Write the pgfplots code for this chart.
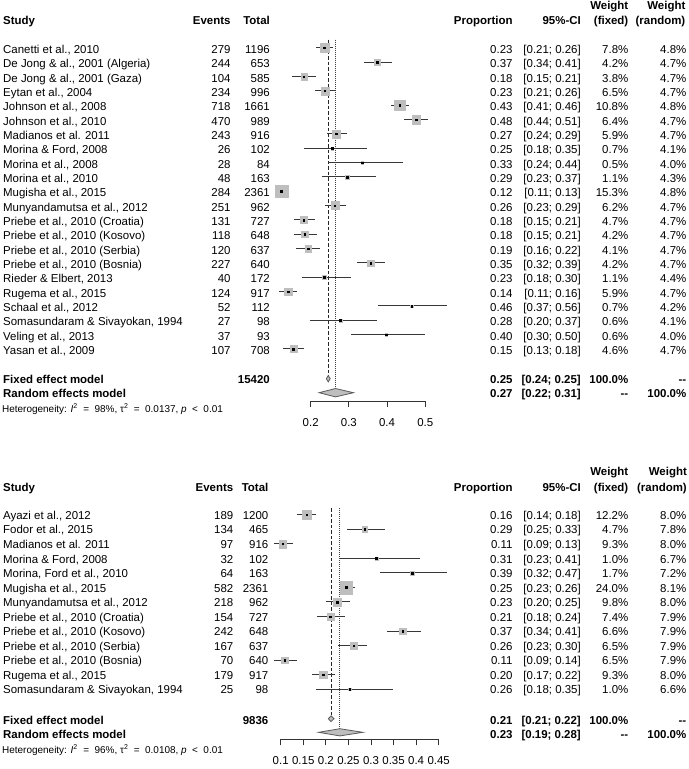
\documentclass[border=0pt]{standalone}
\usepackage{fontspec}
\setmainfont{Liberation Sans}
\usepackage{pgfplots}
\pgfplotsset{compat=1.18}
\usepackage{pgfplotstable}
\definecolor{sqgray}{RGB}{190,190,190}
\definecolor{cigray}{RGB}{55,55,55}
\definecolor{dgray}{RGB}{90,90,90}

% y = plotted row position (negative pixel row), p = proportion, lo/hi = 95% CI, wf = weight (fixed, %)
\pgfplotstableread{
y p lo hi wf
-47.8 0.235 0.213 0.258 7.8
-62.1 0.374 0.340 0.413 4.2
-76.5 0.182 0.152 0.215 3.8
-90.8 0.237 0.210 0.267 6.5
-105.2 0.433 0.410 0.458 10.8
-119.5 0.477 0.444 0.507 6.4
-133.8 0.267 0.242 0.296 5.9
-148.2 0.256 0.182 0.348 0.7
-162.5 0.335 0.244 0.442 0.5
-176.9 0.295 0.230 0.370 1.1
-191.2 0.123 0.113 0.133 15.3
-205.5 0.263 0.237 0.292 6.2
-219.9 0.182 0.156 0.212 4.7
-234.2 0.184 0.156 0.216 4.2
-248.6 0.193 0.162 0.225 4.1
-262.9 0.357 0.320 0.395 4.2
-277.2 0.235 0.177 0.305 1.1
-291.6 0.141 0.117 0.164 5.9
-305.9 0.465 0.376 0.557 0.7
-320.3 0.278 0.199 0.374 0.6
-334.6 0.398 0.305 0.500 0.6
-348.9 0.154 0.127 0.182 4.6
}\toptab

\pgfplotstableread{
y p lo hi wf
-514.8 0.158 0.137 0.179 12.2
-529.3 0.286 0.247 0.330 4.7
-543.8 0.104 0.085 0.127 9.3
-558.4 0.312 0.231 0.409 1.0
-572.9 0.391 0.319 0.468 1.7
-587.4 0.245 0.231 0.264 24.0
-601.9 0.225 0.200 0.253 9.8
-616.5 0.210 0.181 0.243 7.4
-631.0 0.370 0.336 0.410 6.6
-645.5 0.262 0.228 0.291 6.5
-660.0 0.109 0.085 0.136 6.5
-674.5 0.194 0.170 0.221 9.3
-689.0 0.253 0.179 0.349 1.0
}\bottab

\newcommand\fs{\fontsize{11.5}{13}\selectfont}
\newcommand\hfs{\fontsize{10}{11}\selectfont}
\newcommand\rs{\hspace{0.55em}}
\newcommand\xev{230.7}
\newcommand\xtot{270}
% row: y-center, study, events, total, prop, ci, wf, wr
\newcommand\row[8]{%
  \node[anchor=base west] at (3,{-(#1)-4.1}) {#2};
  \node[anchor=base east] at (\xev,{-(#1)-4.1}) {#3};
  \node[anchor=base east] at (\xtot,{-(#1)-4.1}) {#4};
  \node[anchor=base east] at (512.7,{-(#1)-4.1}) {#5};
  \node[anchor=base east] at (581,{-(#1)-4.1}) {#6};
  \node[anchor=base east] at (628.5,{-(#1)-4.1}) {#7};
  \node[anchor=base east] at (686.5,{-(#1)-4.1}) {#8};
}
\newcommand\header[3]{% y weight-line, y header-line, right x of random weight header
  \node[anchor=base west] at (3,{-(#2)-4.1}) {\bfseries Study};
  \node[anchor=base east] at (\xev,{-(#2)-4.1}) {\bfseries Events};
  \node[anchor=base east] at (\xtot,{-(#2)-4.1}) {\bfseries Total};
  \node[anchor=base east] at (512.7,{-(#2)-4.1}) {\bfseries Proportion};
  \node[anchor=base east] at (581,{-(#2)-4.1}) {\bfseries 95\%-CI};
  \node[anchor=base east] at (628.5,{-(#1)-4.1}) {\bfseries Weight};
  \node[anchor=base east] at (628.5,{-(#2)-4.1}) {\bfseries (fixed)};
  \node[anchor=base east] at (#3,{-(#1)-4.1}) {\bfseries Weight};
  \node[anchor=base east] at (#3,{-(#2)-4.1}) {\bfseries (random)};
}

\pgfplotsset{forest/.style={
  enlargelimits=false, clip=false,
  axis x line*=bottom, axis y line=none,
  tick align=outside, major tick length=6bp,
  axis line style={black!80, line width=0.8bp},
  tick style={black!80, line width=0.8bp},
  xticklabel style={font=\fs, anchor=base, inner sep=0pt, yshift=-19bp},
  /pgf/number format/assume math mode=true,
}}

\begin{document}
\begin{tikzpicture}[x=1bp,y=1bp]
\path[use as bounding box] (0,0) rectangle (689,-769);

% ---------------- top panel ----------------
\begin{axis}[forest,
  at={(310.7bp,-401bp)}, anchor=south west,
  x=381.7bp, y=1bp,
  xmin=0.2, xmax=0.5, ymin=-401, ymax=-30,
  xtick={0.2,0.3,0.4,0.5}, xticklabels={0.2,0.3,0.4,0.5}]
\addplot[black!85, line width=0.8bp, dash pattern=on 3.5bp off 2bp] coordinates {(0.246,-39.5) (0.246,-375.5)};
\addplot[black!75, line width=0.7bp, dash pattern=on 0.8bp off 1.2bp] coordinates {(0.265,-39.5) (0.265,-388.5)};
\addplot[scatter, only marks, mark=square*,
  mark options={draw=sqgray, fill=sqgray, line width=0.1pt},
  scatter/use mapped color={draw=sqgray, fill=sqgray},
  visualization depends on={6.35*sqrt(\thisrow{wf}/15.3) \as \ms},
  scatter/@pre marker code/.append style={/tikz/mark size=\ms}]
  table[x=p, y=y] {\toptab};
\addplot[only marks, mark=square*, mark size=0.8bp, black,
  error bars/.cd, x dir=both, x explicit, error mark=none,
  error bar style={cigray, line width=1bp}]
  table[x=p, y=y, x error plus expr=\thisrow{hi}-\thisrow{p}, x error minus expr=\thisrow{p}-\thisrow{lo}] {\toptab};
\addplot[fill=sqgray, draw=dgray, line width=0.8bp] coordinates {(0.241,-378.7) (0.246,-375.5) (0.251,-378.7) (0.246,-381.9)} -- cycle;
\addplot[fill=sqgray, draw=dgray, line width=0.8bp] coordinates {(0.222,-392.7) (0.265,-388.5) (0.312,-392.7) (0.265,-396.9)} -- cycle;
\end{axis}

% ---------------- bottom panel ----------------
\begin{axis}[forest,
  at={(280.7bp,-739.3bp)}, anchor=south west,
  x=451.4bp, y=1bp,
  xmin=0.1, xmax=0.45, ymin=-739.3, ymax=-500,
  xtick={0.1,0.15,0.2,0.25,0.3,0.35,0.4,0.45},
  xticklabels={0.1,0.15,0.2,0.25,0.3,0.35,0.4,0.45}]
\addplot[black!85, line width=0.8bp, dash pattern=on 3.5bp off 2bp] coordinates {(0.2115,-508) (0.2115,-715.8)};
\addplot[black!75, line width=0.7bp, dash pattern=on 0.8bp off 1.2bp] coordinates {(0.231,-508) (0.231,-728.7)};
\addplot[scatter, only marks, mark=square*,
  mark options={draw=sqgray, fill=sqgray, line width=0.1pt},
  scatter/use mapped color={draw=sqgray, fill=sqgray},
  visualization depends on={6.35*sqrt(\thisrow{wf}/24.0) \as \ms},
  scatter/@pre marker code/.append style={/tikz/mark size=\ms}]
  table[x=p, y=y] {\bottab};
\addplot[only marks, mark=square*, mark size=0.8bp, black,
  error bars/.cd, x dir=both, x explicit, error mark=none,
  error bar style={cigray, line width=1bp}]
  table[x=p, y=y, x error plus expr=\thisrow{hi}-\thisrow{p}, x error minus expr=\thisrow{p}-\thisrow{lo}] {\bottab};
\addplot[fill=sqgray, draw=dgray, line width=0.8bp] coordinates {(0.2055,-718.7) (0.2115,-715.8) (0.218,-718.7) (0.2115,-721.6)} -- cycle;
\addplot[fill=sqgray, draw=dgray, line width=0.8bp] coordinates {(0.184,-732.3) (0.231,-728.7) (0.282,-732.3) (0.231,-735.9)} -- cycle;
\end{axis}

\begin{scope}[every node/.style={inner sep=0pt, font=\fs}]
% top panel text
\header{5.7}{20.3}{685.5}
\row{49.3}{Canetti et al., 2010}{279}{1196}{0.23}{[0.21; 0.26]}{7.8\%}{4.8\%}
\row{63.64}{De Jong \& al., 2001 (Algeria)}{244}{653}{0.37}{[0.34; 0.41]}{4.2\%}{4.7\%}
\row{77.98}{De Jong \& al., 2001 (Gaza)}{104}{585}{0.18}{[0.15; 0.21]}{3.8\%}{4.7\%}
\row{92.32}{Eytan et al., 2004}{234}{996}{0.23}{[0.21; 0.26]}{6.5\%}{4.7\%}
\row{106.66}{Johnson et al., 2008}{718}{1661}{0.43}{[0.41; 0.46]}{10.8\%}{4.8\%}
\row{121.0}{Johnson et al., 2010}{470}{989}{0.48}{[0.44; 0.51]}{6.4\%}{4.7\%}
\row{135.34}{Madianos et al. 2011}{243}{916}{0.27}{[0.24; 0.29]}{5.9\%}{4.7\%}
\row{149.68}{Morina \& Ford, 2008}{26}{102}{0.25}{[0.18; 0.35]}{0.7\%}{4.1\%}
\row{164.02}{Morina et al., 2008}{28}{84}{0.33}{[0.24; 0.44]}{0.5\%}{4.0\%}
\row{178.36}{Morina et al., 2010}{48}{163}{0.29}{[0.23; 0.37]}{1.1\%}{4.3\%}
\row{192.7}{Mugisha et al., 2015}{284}{2361}{0.12}{[0.11; 0.13]}{15.3\%}{4.8\%}
\row{207.04}{Munyandamutsa et al., 2012}{251}{962}{0.26}{[0.23; 0.29]}{6.2\%}{4.7\%}
\row{221.38}{Priebe et al., 2010 (Croatia)}{131}{727}{0.18}{[0.15; 0.21]}{4.7\%}{4.7\%}
\row{235.72}{Priebe et al., 2010 (Kosovo)}{118}{648}{0.18}{[0.15; 0.21]}{4.2\%}{4.7\%}
\row{250.06}{Priebe et al., 2010 (Serbia)}{120}{637}{0.19}{[0.16; 0.22]}{4.1\%}{4.7\%}
\row{264.4}{Priebe et al., 2010 (Bosnia)}{227}{640}{0.35}{[0.32; 0.39]}{4.2\%}{4.7\%}
\row{278.74}{Rieder \& Elbert, 2013}{40}{172}{0.23}{[0.18; 0.30]}{1.1\%}{4.4\%}
\row{293.08}{Rugema et al., 2015}{124}{917}{0.14}{[0.11; 0.16]}{5.9\%}{4.7\%}
\row{307.42}{Schaal et al., 2012}{52}{112}{0.46}{[0.37; 0.56]}{0.7\%}{4.2\%}
\row{321.76}{Somasundaram \& Sivayokan, 1994}{27}{98}{0.28}{[0.20; 0.37]}{0.6\%}{4.1\%}
\row{336.1}{Veling et al., 2013}{37}{93}{0.40}{[0.30; 0.50]}{0.6\%}{4.0\%}
\row{350.44}{Yasan et al., 2009}{107}{708}{0.15}{[0.13; 0.18]}{4.6\%}{4.7\%}
\row{379.5}{\bfseries Fixed effect model}{}{\bfseries 15420}{\bfseries 0.25}{\bfseries [0.24; 0.25]}{\bfseries 100.0\%}{\bfseries -{}-}
\row{393.8}{\bfseries Random effects model}{}{}{\bfseries 0.27}{\bfseries [0.22; 0.31]}{\bfseries -{}-}{\bfseries 100.0\%}
\node[anchor=base west, font=\hfs] at (2,-412.0) {Heterogeneity: \textit{I}\textsuperscript{2}\rs=\rs98\%, τ\textsuperscript{2}\rs=\rs0.0137, \textit{p}\rs<\rs0.01};

% bottom panel text
\renewcommand\xev{233.5}
\renewcommand\xtot{268.5}
\header{471.7}{487.3}{687}
\row{515.3}{Ayazi et al., 2012}{189}{1200}{0.16}{[0.14; 0.18]}{12.2\%}{8.0\%}
\row{529.8}{Fodor et al., 2015}{134}{465}{0.29}{[0.25; 0.33]}{4.7\%}{7.8\%}
\row{544.3}{Madianos et al. 2011}{97}{916}{0.11}{[0.09; 0.13]}{9.3\%}{8.0\%}
\row{558.9}{Morina \& Ford, 2008}{32}{102}{0.31}{[0.23; 0.41]}{1.0\%}{6.7\%}
\row{573.4}{Morina, Ford et al., 2010}{64}{163}{0.39}{[0.32; 0.47]}{1.7\%}{7.2\%}
\row{587.9}{Mugisha et al., 2015}{582}{2361}{0.25}{[0.23; 0.26]}{24.0\%}{8.1\%}
\row{602.4}{Munyandamutsa et al., 2012}{218}{962}{0.23}{[0.20; 0.25]}{9.8\%}{8.0\%}
\row{617.0}{Priebe et al., 2010 (Croatia)}{154}{727}{0.21}{[0.18; 0.24]}{7.4\%}{7.9\%}
\row{631.5}{Priebe et al., 2010 (Kosovo)}{242}{648}{0.37}{[0.34; 0.41]}{6.6\%}{7.9\%}
\row{646.0}{Priebe et al., 2010 (Serbia)}{167}{637}{0.26}{[0.23; 0.30]}{6.5\%}{7.9\%}
\row{660.5}{Priebe et al., 2010 (Bosnia)}{70}{640}{0.11}{[0.09; 0.14]}{6.5\%}{7.9\%}
\row{675.0}{Rugema et al., 2015}{179}{917}{0.20}{[0.17; 0.22]}{9.3\%}{8.0\%}
\row{689.5}{Somasundaram \& Sivayokan, 1994}{25}{98}{0.26}{[0.18; 0.35]}{1.0\%}{6.6\%}
\row{720.0}{\bfseries Fixed effect model}{}{\bfseries 9836}{\bfseries 0.21}{\bfseries [0.21; 0.22]}{\bfseries 100.0\%}{\bfseries -{}-}
\row{734.3}{\bfseries Random effects model}{}{}{\bfseries 0.23}{\bfseries [0.19; 0.28]}{\bfseries -{}-}{\bfseries 100.0\%}
\node[anchor=base west, font=\hfs] at (2,-753.5) {Heterogeneity: \textit{I}\textsuperscript{2}\rs=\rs96\%, τ\textsuperscript{2}\rs=\rs0.0108, \textit{p}\rs<\rs0.01};
\end{scope}
\end{tikzpicture}
\end{document}
